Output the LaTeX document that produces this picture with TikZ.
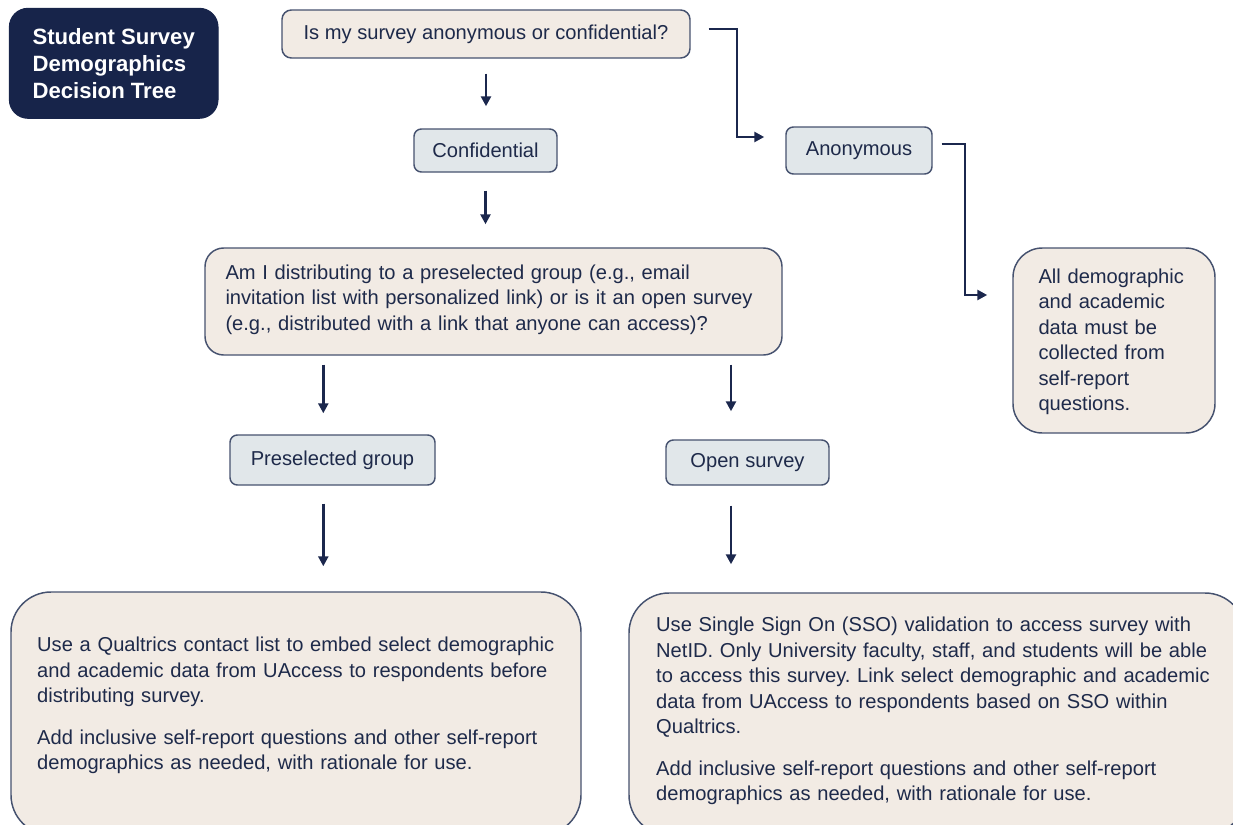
\documentclass[tikz,border=0pt]{standalone}
\usepackage{fontspec}
\setmainfont{Liberation Sans}
\usetikzlibrary{arrows.meta}
\frenchspacing

\definecolor{navyfill}{HTML}{17244A}
\definecolor{inktext}{HTML}{1E2A4A}
\definecolor{edgeline}{HTML}{46526F}
\definecolor{sandfill}{HTML}{F2EBE4}
\definecolor{mistfill}{HTML}{E1E7EA}
\definecolor{arrowink}{HTML}{1B274D}

\tikzset{every picture/.style={line width=0.75pt}}
\tikzset{
  bodyfont/.style={font=\fontsize{15.1}{19.1}\selectfont, text=inktext},
  titlebox/.style={fill=navyfill, draw=navyfill, text=white, align=left, inner sep=0pt,
    rounded corners=14pt, font=\bfseries\fontsize{16.6}{20.2}\selectfont},
  askbox/.style={draw=edgeline, fill=sandfill, line width=1.1pt, inner sep=0pt, bodyfont},
  pickbox/.style={draw=edgeline, fill=mistfill, line width=1.1pt, inner sep=0pt,
    rounded corners=5.5pt, bodyfont},
  bodytext/.style={anchor=base west, inner sep=0pt, align=left, text width=440pt, bodyfont},
  flow/.style={draw=arrowink, line width=1.9pt, -{Triangle[length=7.5pt,width=7.5pt]}}
}

\begin{document}
\begin{tikzpicture}[x=0.75pt,y=0.75pt,yscale=-1,xscale=1]
\useasboundingbox (0,0) rectangle (1233,825);
\clip (0,0) rectangle (1233,825);

%Shape: Rounded Rect -- title
\node[titlebox, minimum width=156.5pt, minimum height=82.5pt] (title) at (113.7,63.3)
  {Student Survey\\Demographics\\Decision Tree};

%Shape: Rounded Rect -- first question
\node[askbox, rounded corners=7pt, minimum width=306pt, minimum height=36pt] (q1) at (486,34)
  {Is my survey anonymous or confidential?};

%Shape: Rounded Rect -- answers
\node[pickbox, minimum width=107.25pt, minimum height=32.25pt] (conf) at (485.5,150.5) {Confidential};
\node[pickbox, minimum width=109.5pt, minimum height=35.25pt] (anon) at (859,150.5) {Anonymous};

%Shape: Rounded Rect -- second question
\node[askbox, rounded corners=14pt, minimum width=432.75pt, minimum height=80.25pt] (q2) at (493.5,301.5) {};
% Text Node
\node[bodytext] (q2txt) at (225,279.5)
  {Am I distributing to a preselected group (e.g., email\\
   invitation list with personalized link) or is it an open survey\\
   (e.g., distributed with a link that anyone can access)?};

%Shape: Rounded Rect -- anonymous outcome
\node[askbox, rounded corners=22pt, minimum width=151.5pt, minimum height=138.75pt] (allbox) at (1114,340.5) {};
% Text Node
\node[bodytext, text width=140pt] (alltxt) at (1038,283.3)
  {All demographic\\and academic\\data must be\\collected from\\self-report\\questions.};

%Shape: Rounded Rect -- distribution answers
\node[pickbox, minimum width=153.75pt, minimum height=37.5pt] (presel) at (332.5,460) {Preselected group};
\node[pickbox, minimum width=122.25pt, minimum height=33.75pt] (open) at (747.5,462.5) {Open survey};

%Shape: Rounded Rect -- bottom outcomes
\node[askbox, rounded corners=30pt, minimum width=427.5pt, minimum height=182.25pt] (leftbot) at (296,713.5) {};
\node[askbox, rounded corners=30pt, minimum width=462pt, minimum height=181.5pt] (rightbot) at (937,714) {};
% Text Node
\node[bodytext] (lefttxt) at (36.7,651.7)
  {Use a Qualtrics contact list to embed select demographic\\
   and academic data from UAccess to respondents before\\
   distributing survey.\\[12pt]
   Add inclusive self-report questions and other self-report\\
   demographics as needed, with rationale for use.};
% Text Node
\node[bodytext] (righttxt) at (655.7,631.7)
  {Use Single Sign On (SSO) validation to access survey with\\
   NetID. Only University faculty, staff, and students will be able\\
   to access this survey. Link select demographic and academic\\
   data from UAccess to respondents based on SSO within\\
   Qualtrics.\\[12pt]
   Add inclusive self-report questions and other self-report\\
   demographics as needed, with rationale for use.};

% Knees and columns
\coordinate (k1) at (737,29);
\coordinate (k2) at (737,137);
\coordinate (k3) at (965,144);
\coordinate (k4) at (965,295);
\coordinate (colL) at (323.3,0);
\coordinate (colR) at (731,0);

%Straight Lines
\draw[flow, shorten <=11.25pt, shorten >=16.5pt] (q1.south) -- (q1.south |- conf.north);
\draw[flow, shorten <=13.5pt, shorten >=17.25pt] (conf.south) -- (conf.south |- q2.north);
\draw[flow, shorten <=6.75pt, shorten >=15.75pt] (q2.south -| colL) -- (presel.north -| colL);
\draw[flow, shorten <=6.75pt, shorten >=21pt] (q2.south -| colR) -- (open.north -| colR);
\draw[flow, shorten <=13.5pt, shorten >=18.75pt] (presel.south -| colL) -- (leftbot.north -| colL);
\draw[flow, shorten <=15pt, shorten >=21pt] (open.south -| colR) -- (rightbot.north -| colR);

%Elbow Lines
\draw[flow, shorten <=13.5pt, shorten >=15.75pt] (q1.east |- k1) -- (k1) -- (k2) -- (anon.west |- k2);
\draw[flow, shorten <=6.75pt, shorten >=18.75pt] (anon.east |- k3) -- (k3) -- (k4) -- (allbox.west |- k4);

\end{tikzpicture}
\end{document}
